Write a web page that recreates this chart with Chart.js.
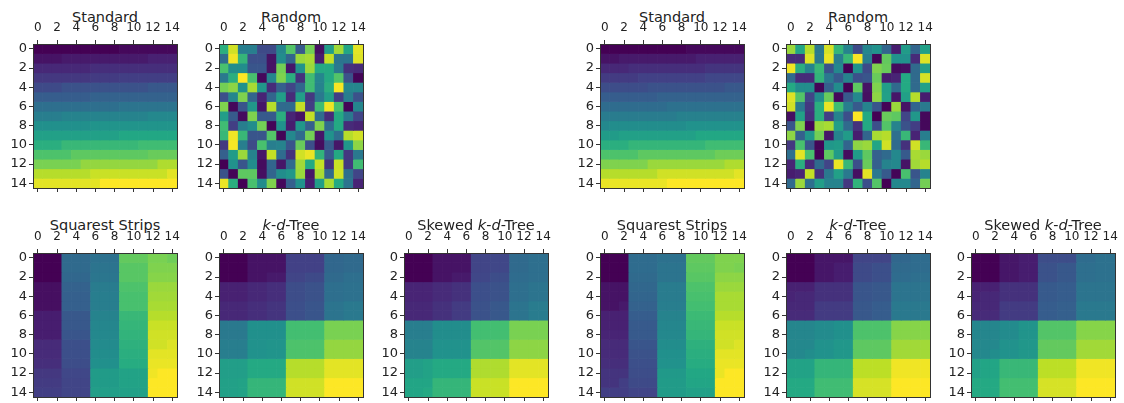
<!DOCTYPE html>
<html>
<head>
<meta charset="utf-8">
<script src="https://cdn.jsdelivr.net/npm/chart.js@4"></script>
<style>
    html, body { margin: 0; padding: 0; background: #fff; width: 1124px; height: 403px; overflow: hidden; }
    canvas { position: absolute; }
    .title { position: absolute; width: 200px; text-align: center; font: 14.5px "DejaVu Sans", sans-serif; color: #222; white-space: nowrap; line-height: 16px; }
</style>
</head>
<body>
<script>
const xTicks = [0, 2, 4, 6, 8, 10, 12, 14]
const yTicks = [0, 2, 4, 6, 8, 10, 12, 14]

const standardLeft = [
    [0, 0, 0, 0, 0, 0, 0, 0, 0, 2, 2, 2, 2, 2, 2],
    [5, 5, 5, 7, 7, 7, 7, 7, 7, 7, 7, 7, 9, 9, 9],
    [11, 11, 11, 11, 11, 11, 13, 13, 13, 13, 13, 13, 13, 13, 13],
    [16, 16, 16, 16, 16, 16, 17, 17, 17, 18, 18, 18, 18, 18, 18],
    [22, 22, 22, 25, 25, 25, 25, 25, 25, 25, 25, 25, 27, 27, 27],
    [29, 29, 29, 29, 29, 29, 31, 31, 31, 31, 31, 31, 31, 31, 31],
    [36, 36, 36, 36, 36, 36, 36, 36, 36, 38, 38, 38, 38, 38, 38],
    [42, 42, 42, 44, 44, 44, 44, 44, 44, 44, 44, 44, 46, 46, 46],
    [49, 49, 49, 49, 49, 49, 51, 51, 51, 51, 51, 51, 51, 51, 51],
    [56, 56, 56, 56, 56, 56, 56, 56, 56, 59, 59, 59, 59, 59, 59],
    [62, 62, 62, 66, 66, 66, 66, 66, 66, 66, 66, 68, 68, 68, 68],
    [71, 71, 71, 71, 74, 74, 74, 74, 74, 74, 74, 74, 76, 76, 76],
    [79, 79, 79, 79, 79, 83, 83, 83, 83, 83, 83, 83, 83, 87, 87],
    [88, 88, 88, 88, 88, 88, 91, 91, 91, 91, 91, 91, 91, 91, 95],
    [95, 95, 95, 95, 95, 95, 95, 99, 99, 99, 99, 99, 99, 99, 99],
]

const randomLeft = [
    [62, 92, 42, 42, 22, 22, 45, 72, 28, 78, 4, 55, 85, 58, 95],
    [35, 97, 65, 24, 24, 5, 48, 32, 84, 86, 8, 90, 38, 38, 94],
    [70, 48, 48, 26, 26, 5, 78, 6, 50, 84, 60, 60, 40, 14, 12],
    [40, 62, 99, 70, 2, 45, 80, 62, 14, 68, 45, 60, 72, 25, 1],
    [78, 82, 50, 86, 52, 12, 30, 20, 33, 68, 44, 62, 98, 45, 45],
    [24, 45, 80, 32, 10, 32, 55, 12, 55, 16, 40, 55, 18, 42, 25],
    [80, 2, 26, 52, 6, 88, 34, 34, 90, 18, 68, 97, 70, 1, 45],
    [55, 28, 3, 80, 28, 28, 62, 10, 5, 90, 35, 12, 60, 40, 20],
    [68, 18, 42, 48, 78, 1, 50, 8, 52, 30, 80, 35, 60, 12, 10],
    [66, 97, 66, 26, 26, 72, 1, 46, 34, 78, 6, 50, 36, 88, 92],
    [16, 98, 42, 22, 70, 42, 44, 26, 76, 24, 3, 28, 6, 52, 82],
    [30, 54, 84, 44, 6, 90, 35, 14, 92, 96, 64, 28, 60, 16, 40],
    [0, 50, 26, 48, 3, 32, 6, 34, 85, 60, 90, 14, 91, 16, 68],
    [25, 1, 74, 74, 4, 32, 48, 52, 84, 6, 86, 34, 92, 36, 20],
    [96, 62, 0, 70, 48, 80, 2, 30, 50, 8, 55, 86, 60, 38, 10],
]

const stripsLeft = [
    [0, 0, 0, 34, 34, 34, 37, 37, 37, 75, 75, 75, 79, 79, 77],
    [0, 0, 0, 34, 34, 34, 38, 38, 38, 73, 73, 73, 80, 80, 80],
    [0, 0, 0, 33, 33, 33, 39, 39, 39, 73, 73, 73, 81, 81, 81],
    [4, 4, 4, 31, 31, 31, 41, 41, 41, 71, 71, 71, 84, 84, 84],
    [4, 4, 4, 30, 30, 30, 42, 42, 42, 70, 70, 70, 85, 85, 85],
    [4, 4, 4, 30, 30, 30, 42, 42, 42, 70, 70, 70, 86, 86, 86],
    [8, 8, 8, 27, 27, 27, 44, 44, 44, 66, 66, 66, 88, 88, 88],
    [8, 8, 8, 27, 27, 27, 45, 45, 45, 65, 65, 65, 91, 91, 91],
    [8, 8, 8, 26, 26, 26, 46, 46, 46, 64, 64, 64, 92, 92, 92],
    [12, 12, 12, 24, 24, 24, 47, 47, 47, 63, 63, 63, 92, 92, 94],
    [12, 12, 12, 24, 24, 24, 48, 48, 48, 62, 62, 62, 95, 95, 95],
    [13, 13, 13, 23, 23, 23, 49, 49, 49, 61, 61, 61, 96, 96, 96],
    [16, 16, 16, 21, 21, 21, 54, 54, 54, 57, 57, 57, 97, 99, 99],
    [17, 17, 17, 20, 20, 20, 54, 54, 54, 57, 57, 57, 99, 99, 99],
    [18, 18, 18, 20, 20, 20, 55, 55, 55, 56, 56, 56, 99, 99, 99],
]

const kdLeft = [
    [0, 0, 0, 5, 5, 5, 5, 19, 19, 19, 19, 33, 33, 34, 34],
    [0, 0, 0, 5, 5, 5, 5, 19, 19, 19, 19, 33, 33, 34, 34],
    [0, 0, 0, 5, 5, 7, 7, 20, 20, 22, 22, 34, 34, 36, 36],
    [9, 9, 9, 11, 11, 13, 13, 23, 23, 25, 25, 36, 36, 37, 37],
    [9, 9, 9, 11, 11, 13, 13, 23, 23, 25, 25, 36, 36, 37, 37],
    [11, 11, 11, 13, 13, 15, 15, 24, 24, 26, 26, 38, 38, 40, 40],
    [11, 11, 11, 13, 13, 15, 15, 24, 24, 26, 26, 38, 38, 40, 40],
    [40, 40, 40, 49, 49, 49, 49, 69, 69, 69, 69, 79, 79, 79, 79],
    [40, 40, 40, 49, 49, 49, 49, 69, 69, 69, 69, 79, 79, 79, 79],
    [42, 42, 42, 50, 50, 51, 51, 71, 71, 71, 71, 83, 83, 83, 83],
    [42, 42, 42, 50, 50, 51, 51, 71, 71, 71, 71, 83, 83, 83, 83],
    [55, 55, 55, 60, 60, 60, 60, 88, 88, 88, 88, 95, 95, 95, 95],
    [55, 55, 55, 60, 60, 60, 60, 88, 88, 88, 88, 95, 95, 95, 95],
    [56, 56, 57, 65, 65, 65, 65, 92, 92, 92, 92, 99, 99, 99, 99],
    [56, 56, 57, 65, 65, 65, 65, 92, 92, 92, 92, 99, 99, 99, 99],
]

const skewedLeft = [
    [0, 0, 0, 5, 5, 5, 5, 20, 20, 21, 21, 34, 34, 36, 36],
    [0, 0, 0, 5, 5, 5, 5, 20, 20, 21, 21, 34, 34, 36, 36],
    [0, 0, 0, 5, 5, 7, 7, 21, 21, 23, 23, 35, 35, 36, 36],
    [10, 10, 10, 12, 12, 14, 14, 24, 24, 25, 25, 36, 36, 38, 38],
    [10, 10, 10, 12, 12, 14, 14, 24, 24, 25, 25, 36, 36, 38, 38],
    [11, 11, 11, 14, 14, 17, 17, 25, 25, 27, 27, 38, 38, 41, 41],
    [11, 11, 11, 14, 14, 17, 17, 25, 25, 27, 27, 38, 38, 41, 41],
    [42, 42, 42, 48, 48, 48, 48, 69, 69, 69, 69, 79, 79, 79, 79],
    [42, 42, 42, 48, 48, 48, 48, 69, 69, 69, 69, 79, 79, 79, 79],
    [44, 44, 44, 50, 50, 50, 50, 72, 72, 72, 72, 82, 82, 82, 82],
    [44, 44, 44, 50, 50, 50, 50, 72, 72, 72, 72, 82, 82, 82, 82],
    [55, 55, 57, 60, 60, 60, 60, 87, 87, 87, 87, 95, 95, 95, 95],
    [55, 55, 57, 60, 60, 60, 60, 87, 87, 87, 87, 95, 95, 95, 95],
    [58, 58, 58, 65, 65, 65, 65, 91, 91, 91, 91, 99, 99, 99, 99],
    [58, 58, 60, 65, 65, 65, 65, 91, 91, 91, 91, 99, 99, 99, 99],
]

const standardRight = [
    [0, 0, 0, 0, 0, 0, 0, 0, 0, 2, 2, 2, 2, 2, 2],
    [5, 5, 7, 7, 7, 7, 7, 7, 7, 7, 9, 9, 9, 9, 9],
    [11, 11, 11, 13, 13, 13, 13, 13, 13, 13, 13, 15, 15, 15, 15],
    [17, 17, 17, 17, 19, 19, 19, 19, 19, 19, 19, 21, 21, 21, 21],
    [23, 23, 23, 23, 23, 25, 25, 25, 25, 25, 25, 25, 25, 27, 27],
    [29, 29, 29, 29, 29, 29, 31, 31, 31, 31, 31, 31, 31, 31, 31],
    [35, 35, 35, 35, 35, 35, 35, 37, 37, 37, 37, 37, 37, 37, 37],
    [41, 41, 41, 41, 41, 41, 41, 41, 43, 43, 43, 43, 43, 43, 43],
    [46, 48, 48, 48, 48, 48, 48, 48, 48, 50, 50, 50, 50, 50, 50],
    [54, 54, 56, 56, 56, 56, 56, 56, 56, 56, 59, 59, 59, 59, 59],
    [62, 62, 62, 65, 65, 65, 65, 65, 65, 65, 65, 68, 68, 68, 68],
    [71, 71, 71, 71, 74, 74, 74, 74, 74, 74, 74, 74, 77, 77, 77],
    [80, 80, 80, 80, 80, 84, 84, 84, 84, 84, 84, 84, 84, 87, 87],
    [88, 88, 88, 88, 88, 88, 92, 92, 92, 92, 92, 92, 92, 92, 95],
    [96, 96, 96, 96, 96, 96, 96, 99, 99, 99, 99, 99, 99, 99, 99],
]

const randomRight = [
    [84, 58, 88, 40, 93, 65, 44, 22, 45, 50, 32, 8, 54, 32, 56],
    [12, 12, 94, 40, 96, 42, 66, 98, 42, 1, 75, 50, 50, 12, 94],
    [97, 62, 44, 66, 25, 46, 0, 50, 22, 80, 76, 3, 4, 34, 55],
    [34, 12, 12, 64, 40, 28, 44, 24, 26, 76, 8, 10, 60, 34, 93],
    [60, 48, 48, 1, 30, 48, 0, 74, 5, 80, 55, 34, 60, 34, 56],
    [94, 72, 20, 48, 76, 2, 28, 46, 4, 82, 56, 6, 56, 88, 8],
    [92, 40, 16, 62, 96, 68, 42, 28, 44, 26, 1, 84, 5, 32, 40],
    [4, 56, 14, 62, 18, 44, 24, 99, 60, 0, 76, 74, 20, 52, 2],
    [26, 80, 1, 84, 86, 55, 34, 14, 60, 24, 72, 44, 25, 18, 2],
    [82, 30, 52, 78, 6, 44, 54, 8, 32, 86, 88, 36, 66, 10, 42],
    [16, 70, 26, 1, 52, 54, 32, 82, 84, 58, 92, 34, 14, 92, 66],
    [36, 95, 70, 0, 74, 54, 3, 54, 74, 30, 34, 46, 28, 86, 84],
    [10, 62, 12, 34, 20, 96, 66, 24, 76, 30, 44, 46, 5, 85, 88],
    [8, 10, 90, 14, 40, 56, 40, 4, 95, 40, 28, 1, 70, 26, 44],
    [34, 84, 36, 55, 44, 44, 16, 64, 24, 72, 0, 46, 46, 32, 78],
]

const stripsRight = [
    [0, 0, 0, 35, 35, 35, 37, 37, 37, 75, 75, 75, 80, 80, 80],
    [0, 0, 0, 35, 35, 35, 38, 38, 38, 74, 74, 74, 80, 80, 79],
    [0, 0, 0, 34, 34, 34, 38, 38, 38, 73, 73, 73, 82, 82, 82],
    [5, 5, 5, 33, 33, 33, 41, 41, 41, 71, 71, 71, 84, 84, 84],
    [5, 5, 5, 32, 32, 32, 41, 41, 41, 70, 70, 70, 86, 86, 86],
    [5, 5, 7, 31, 31, 31, 42, 42, 42, 69, 69, 69, 86, 86, 86],
    [9, 9, 9, 29, 29, 29, 44, 44, 44, 67, 67, 67, 88, 88, 88],
    [9, 9, 9, 28, 28, 28, 45, 45, 45, 66, 66, 66, 91, 91, 91],
    [10, 10, 10, 28, 28, 28, 46, 46, 46, 65, 65, 65, 92, 92, 92],
    [12, 12, 12, 26, 26, 26, 48, 48, 48, 63, 63, 63, 92, 92, 94],
    [12, 12, 12, 25, 25, 25, 49, 49, 49, 62, 62, 62, 95, 95, 95],
    [13, 13, 13, 24, 24, 24, 50, 50, 50, 61, 61, 61, 96, 96, 96],
    [15, 15, 15, 23, 23, 23, 53, 53, 53, 59, 59, 59, 96, 99, 99],
    [15, 15, 18, 22, 22, 22, 54, 54, 54, 58, 58, 58, 99, 99, 99],
    [18, 18, 18, 20, 20, 20, 54, 54, 54, 56, 56, 56, 99, 99, 99],
]

const kdRight = [
    [0, 0, 0, 6, 6, 6, 6, 20, 20, 20, 20, 33, 33, 35, 35],
    [0, 0, 0, 6, 6, 8, 8, 22, 22, 24, 24, 34, 34, 35, 35],
    [0, 0, 0, 6, 6, 8, 8, 22, 22, 24, 24, 35, 35, 36, 36],
    [9, 9, 9, 14, 14, 14, 14, 26, 26, 27, 27, 38, 38, 38, 38],
    [10, 11, 11, 14, 14, 14, 14, 26, 26, 27, 27, 38, 38, 38, 38],
    [11, 11, 11, 17, 17, 17, 17, 27, 27, 29, 29, 40, 40, 40, 40],
    [12, 12, 12, 17, 17, 17, 17, 27, 27, 29, 29, 40, 40, 40, 40],
    [45, 45, 45, 47, 47, 49, 49, 71, 71, 71, 71, 81, 81, 81, 81],
    [45, 45, 45, 47, 47, 49, 49, 71, 71, 71, 71, 81, 81, 81, 81],
    [46, 46, 46, 50, 50, 52, 52, 74, 74, 74, 74, 85, 85, 85, 85],
    [46, 46, 48, 50, 50, 52, 52, 74, 74, 74, 74, 85, 85, 85, 85],
    [57, 57, 57, 65, 65, 65, 65, 89, 89, 89, 89, 97, 97, 97, 97],
    [57, 57, 57, 65, 65, 65, 65, 89, 89, 89, 89, 97, 97, 97, 97],
    [60, 60, 60, 68, 68, 68, 68, 93, 93, 93, 93, 99, 99, 99, 99],
    [60, 60, 60, 68, 68, 68, 68, 93, 93, 93, 93, 99, 99, 99, 99],
]

const skewedRight = [
    [0, 0, 0, 6, 6, 8, 8, 23, 23, 23, 23, 35, 35, 37, 37],
    [0, 0, 0, 6, 6, 8, 8, 25, 25, 27, 27, 36, 36, 37, 37],
    [0, 0, 0, 6, 6, 8, 8, 25, 25, 27, 27, 36, 36, 37, 37],
    [9, 9, 9, 14, 14, 14, 14, 28, 28, 29, 29, 38, 38, 38, 38],
    [10, 11, 11, 14, 14, 14, 14, 28, 28, 29, 29, 38, 38, 38, 38],
    [11, 11, 11, 17, 17, 17, 17, 29, 29, 30, 30, 40, 40, 40, 40],
    [12, 12, 12, 17, 17, 17, 17, 29, 29, 30, 30, 40, 40, 40, 40],
    [45, 45, 45, 47, 47, 51, 51, 72, 72, 72, 72, 81, 81, 81, 81],
    [45, 45, 45, 47, 47, 51, 51, 72, 72, 72, 72, 81, 81, 81, 81],
    [46, 46, 46, 50, 50, 52, 52, 75, 75, 75, 75, 85, 85, 85, 85],
    [46, 46, 48, 50, 50, 52, 52, 75, 75, 75, 75, 85, 85, 85, 85],
    [56, 58, 58, 66, 66, 66, 66, 89, 89, 89, 89, 97, 97, 97, 97],
    [56, 58, 58, 66, 66, 66, 66, 89, 89, 89, 89, 97, 97, 97, 97],
    [60, 60, 60, 69, 69, 69, 69, 93, 93, 93, 93, 99, 99, 99, 99],
    [60, 60, 60, 69, 69, 69, 69, 93, 93, 93, 93, 99, 99, 99, 99],
]

const panels = [
    { title: 'Standard', values: standardLeft, left: 33, top: 44, titleTop: 9 },
    { title: 'Random', values: randomLeft, left: 219, top: 44, titleTop: 9 },
    { title: 'Squarest Strips', values: stripsLeft, left: 33, top: 253, titleTop: 217 },
    { title: '<i>k</i>-<i>d</i>-Tree', values: kdLeft, left: 219, top: 253, titleTop: 217 },
    { title: 'Skewed <i>k</i>-<i>d</i>-Tree', values: skewedLeft, left: 404, top: 253, titleTop: 217 },
    { title: 'Standard', values: standardRight, left: 600, top: 44, titleTop: 9 },
    { title: 'Random', values: randomRight, left: 786, top: 44, titleTop: 9 },
    { title: 'Squarest Strips', values: stripsRight, left: 600, top: 253, titleTop: 217 },
    { title: '<i>k</i>-<i>d</i>-Tree', values: kdRight, left: 786, top: 253, titleTop: 217 },
    { title: 'Skewed <i>k</i>-<i>d</i>-Tree', values: skewedRight, left: 971, top: 253, titleTop: 217 },
]

const viridis = [
    [68, 1, 84], [72, 36, 117], [65, 68, 135], [53, 95, 141], [42, 120, 142], [33, 145, 140],
    [34, 168, 132], [68, 191, 112], [122, 209, 81], [189, 223, 38], [253, 231, 37],
]

const AXIS_COLOR = '#333'
const TEXT_COLOR = '#222'
const PLOT_SIZE = 144
const MARGIN_LEFT = 33
const MARGIN_TOP = 30
const MARGIN_RIGHT = 14
const MARGIN_BOTTOM = 14

function cellColor(value) {
    const pos = Math.min(value / 99, 1) * (viridis.length - 1)
    const i = Math.min(Math.floor(pos), viridis.length - 2)
    const t = pos - i
    const rgb = viridis[i].map((c, k) => Math.round(c + (viridis[i + 1][k] - c) * t))
    return `rgb(${rgb[0]}, ${rgb[1]}, ${rgb[2]})`
}

function axisBase(position, size) {
    return {
        type: 'linear',
        position: position,
        min: -0.5,
        max: 14.5,
        offset: false,
        border: { color: AXIS_COLOR, width: 1, z: 2 },
        grid: { offset: false, drawOnChartArea: false, color: AXIS_COLOR, tickLength: 4, tickWidth: 1 },
        afterFit: (scale) => {
            if (position === 'top' || position === 'bottom') {
                scale.height = size
            } else {
                scale.width = size
            }
        },
    }
}

function makeDatasets(values) {
    return values.map((row, r) => ({
        label: `row ${r}`,
        data: row.map((v, c) => ({ x: c, y: [r - 0.5, r + 0.5] })),
        backgroundColor: row.map(cellColor),
        borderWidth: 0,
        grouped: false,
        barPercentage: 1,
        categoryPercentage: 1,
    }))
}

function drawPanel(panel) {
    const canvas = document.createElement('canvas')
    const width = MARGIN_LEFT + PLOT_SIZE + MARGIN_RIGHT
    const height = MARGIN_TOP + PLOT_SIZE + MARGIN_BOTTOM
    canvas.width = width
    canvas.height = height
    canvas.style.left = `${panel.left - MARGIN_LEFT}px`
    canvas.style.top = `${panel.top - MARGIN_TOP}px`
    canvas.style.width = `${width}px`
    canvas.style.height = `${height}px`

    const title = document.createElement('div')
    title.className = 'title'
    title.innerHTML = panel.title
    title.style.left = `${panel.left + PLOT_SIZE / 2 - 100}px`
    title.style.top = `${panel.titleTop}px`
    document.body.appendChild(title)
    document.body.appendChild(canvas)

    const xTop = axisBase('top', MARGIN_TOP)
    xTop.afterBuildTicks = (scale) => { scale.ticks = xTicks.map((v) => ({ value: v })) }
    xTop.ticks = { color: TEXT_COLOR, font: { family: 'DejaVu Sans', size: 12 }, padding: 5, maxRotation: 0, autoSkip: false }

    const xBottom = axisBase('bottom', MARGIN_BOTTOM)
    xBottom.afterBuildTicks = (scale) => { scale.ticks = xTicks.map((v) => ({ value: v })) }
    xBottom.ticks = { display: false }

    const yLeft = axisBase('left', MARGIN_LEFT)
    yLeft.reverse = true
    yLeft.afterBuildTicks = (scale) => { scale.ticks = yTicks.map((v) => ({ value: v })) }
    yLeft.ticks = { color: TEXT_COLOR, font: { family: 'DejaVu Sans', size: 13 }, padding: 2, autoSkip: false }

    const yRight = axisBase('right', MARGIN_RIGHT)
    yRight.reverse = true
    yRight.ticks = { display: false }
    yRight.grid.drawTicks = false

    new Chart(canvas, {
        type: 'bar',
        data: { datasets: makeDatasets(panel.values) },
        options: {
            responsive: false,
            animation: false,
            layout: { padding: 0 },
            plugins: { legend: { display: false }, tooltip: { enabled: false }, title: { display: false } },
            scales: { x: xTop, x2: xBottom, y: yLeft, y2: yRight },
        },
    })
}

panels.forEach(drawPanel)
</script>
</body>
</html>
